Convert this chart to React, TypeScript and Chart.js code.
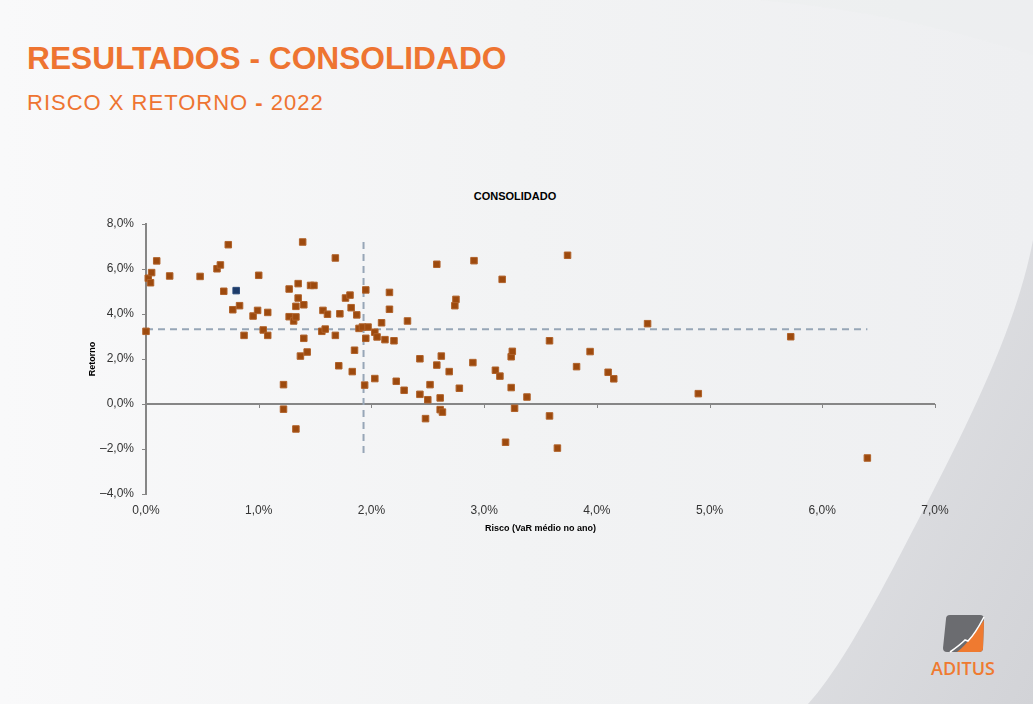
import React, { useEffect, useRef } from "react";
import { Chart, registerables } from "chart.js";

Chart.register(...registerables);

// ---- Data ----
const riscoFundos: number[] = [
  0.0, 0.02, 0.04, 0.05, 0.095, 0.21, 0.48, 0.63, 0.66, 0.69,
  0.73, 0.77, 0.83, 0.87, 0.95, 0.99, 1.0, 1.04, 1.08, 1.08,
  1.22, 1.22, 1.27, 1.27, 1.31, 1.33, 1.33, 1.33, 1.35, 1.35,
  1.37, 1.39, 1.4, 1.4, 1.43, 1.46, 1.49, 1.56, 1.57, 1.59,
  1.61, 1.68, 1.68, 1.71, 1.72, 1.77, 1.81, 1.82, 1.83, 1.85,
  1.87, 1.89, 1.92, 1.94, 1.95, 1.95, 1.97, 2.03, 2.03, 2.05,
  2.09, 2.12, 2.16, 2.16, 2.2, 2.22, 2.29, 2.32, 2.43, 2.43,
  2.48, 2.5, 2.52, 2.58, 2.58, 2.61, 2.61, 2.62, 2.63, 2.69,
  2.74, 2.75, 2.78, 2.9, 2.91, 3.1, 3.14, 3.16, 3.19, 3.24,
  3.24, 3.25, 3.27, 3.38, 3.58, 3.58, 3.65, 3.74, 3.82, 3.94,
  4.1, 4.15, 4.45, 4.9, 5.72, 6.4,
];
const retornoFundos: number[] = [
  3.23, 5.59, 5.39, 5.84, 6.36, 5.69, 5.67, 6.01, 6.18, 5.01,
  7.08, 4.19, 4.37, 3.05, 3.91, 4.16, 5.72, 3.29, 4.07, 3.05,
  0.86, -0.23, 5.11, 3.88, 3.69, 3.87, 4.34, -1.11, 5.35, 4.71,
  2.13, 7.2, 4.41, 2.92, 2.31, 5.27, 5.27, 3.23, 4.16, 3.33,
  3.99, 6.49, 3.05, 1.7, 4.01, 4.71, 4.84, 4.28, 1.44, 2.39,
  3.96, 3.36, 3.42, 0.84, 5.07, 2.92, 3.42, 3.19, 1.13, 2.98,
  3.61, 2.86, 4.96, 4.21, 2.81, 1.01, 0.61, 3.69, 2.01, 0.43,
  -0.65, 0.19, 0.86, 6.21, 1.73, 0.27, -0.25, 2.13, -0.36, 1.44,
  4.37, 4.65, 0.7, 1.84, 6.37, 1.5, 1.24, 5.54, -1.7, 2.1,
  0.73, 2.34, -0.19, 0.31, 2.81, -0.53, -1.96, 6.61, 1.66, 2.33,
  1.41, 1.12, 3.57, 0.46, 2.99, -2.4,
];
const riscoDestaque: number[] = [0.8];
const retornoDestaque: number[] = [5.04];

const mediaRisco = 1.93;
const mediaRetorno = 3.32;
const linhaMediaRetornoX: number[] = [0, 6.4];
const linhaMediaRiscoY: number[] = [7.2, -2.4];

const xTicks: number[] = [0, 1, 2, 3, 4, 5, 6, 7];
const yTicks: number[] = [-4, -2, 0, 2, 4, 6, 8];

const FONT = "'Liberation Sans', Arial, Helvetica, sans-serif";
const ORANGE = "#ee7431";

const fmtPct = (v: number) =>
  (v < 0 ? "\u2013" : "") + Math.abs(v).toFixed(1).replace(".", ",") + "%";

const zeroAxisPlugin = {
  id: "zeroAxis",
  beforeDatasetsDraw(chart: any) {
    const { ctx, scales } = chart;
    const x = scales.x;
    const y = scales.y;
    const y0 = Math.round(y.getPixelForValue(0));
    ctx.save();
    ctx.strokeStyle = "#868686";
    ctx.lineWidth = 2;
    ctx.beginPath();
    ctx.moveTo(x.getPixelForValue(xTicks[0]), y0);
    ctx.lineTo(x.getPixelForValue(xTicks[xTicks.length - 1]), y0);
    ctx.stroke();
    ctx.lineWidth = 1;
    xTicks.forEach((t) => {
      const px = Math.round(x.getPixelForValue(t)) + 0.5;
      ctx.beginPath();
      ctx.moveTo(px, y0);
      ctx.lineTo(px, y0 + 4);
      ctx.stroke();
    });
    ctx.restore();
  },
};

function ScatterChart() {
  const ref = useRef<HTMLCanvasElement | null>(null);
  useEffect(() => {
    if (!ref.current) return;
    const fundos = riscoFundos.map((r, i) => ({ x: r, y: retornoFundos[i] }));
    const destaque = riscoDestaque.map((r, i) => ({ x: r, y: retornoDestaque[i] }));
    const hLine = linhaMediaRetornoX.map((r) => ({ x: r, y: mediaRetorno }));
    const vLine = linhaMediaRiscoY.map((r) => ({ x: mediaRisco, y: r }));
    const dashed = {
      showLine: true,
      borderColor: "#97a6b7",
      borderWidth: 2,
      borderDash: [7, 5],
      pointRadius: 0,
      fill: false,
      clip: false,
    };
    const chart = new Chart(ref.current, {
      type: "scatter",
      data: {
        datasets: [
          {
            data: destaque,
            pointStyle: "rect",
            pointRadius: 4.6,
            backgroundColor: "#1d3b69",
            borderColor: "#2a4a78",
            borderWidth: 1,
            clip: false,
          },
          {
            data: fundos,
            pointStyle: "rect",
            pointRadius: 4.6,
            backgroundColor: "#9d4a0e",
            borderColor: "#b0622a",
            borderWidth: 1,
            clip: false,
          },
          { data: hLine, ...dashed },
          { data: vLine, ...dashed },
        ] as any,
      },
      options: {
        responsive: false,
        animation: false,
        events: [],
        layout: { padding: { left: 83, right: 98, top: 224, bottom: 166 } },
        plugins: {
          legend: { display: false },
          tooltip: { enabled: false },
          title: { display: false },
        },
        scales: {
          x: {
            type: "linear",
            position: "bottom",
            min: 0,
            max: 7,
            afterBuildTicks: (s: any) => {
              s.ticks = xTicks.map((v) => ({ value: v }));
            },
            afterFit: (s: any) => {
              s.height = 44;
            },
            ticks: {
              padding: 9,
              maxRotation: 0,
              color: "#333333",
              font: { family: FONT, size: 12 },
              callback: (v: any) => fmtPct(Number(v)),
            },
            grid: { display: false, drawTicks: false },
            border: { display: false },
            title: {
              display: true,
              text: "Risco (VaR médio no ano)",
              color: "#000000",
              font: { family: FONT, size: 9, weight: "bold" },
              padding: { top: 4, bottom: 4 },
            },
          },
          y: {
            type: "linear",
            min: -4,
            max: 8,
            afterBuildTicks: (s: any) => {
              s.ticks = yTicks.map((v) => ({ value: v }));
            },
            afterFit: (s: any) => {
              s.width = 63;
            },
            ticks: {
              padding: 8,
              color: "#333333",
              font: { family: FONT, size: 12 },
              callback: (v: any) => fmtPct(Number(v)),
            },
            grid: {
              drawOnChartArea: false,
              drawTicks: true,
              tickLength: 4,
              color: "#868686",
              lineWidth: 1,
            },
            border: { display: true, color: "#868686", width: 2 },
            title: {
              display: true,
              text: "Retorno",
              color: "#000000",
              font: { family: FONT, size: 9, weight: "bold" },
              padding: { top: 4, bottom: 4 },
            },
          },
        },
      } as any,
      plugins: [zeroAxisPlugin],
    });
    return () => chart.destroy();
  }, []);
  return (
    <canvas
      ref={ref}
      width={1033}
      height={704}
      style={{ position: "absolute", left: 0, top: 0, width: 1033, height: 704 }}
    />
  );
}

function Logo() {
  return (
    <svg
      width={1033}
      height={704}
      style={{ position: "absolute", left: 0, top: 0 }}
    >
      <path
        d="M950 615 Q946 615 946 619 L943 648 Q943 652 947 652 L979 652 Q983 652 983 648 L984 619 Q984 615 980 615 Z"
        fill="#6b6c70"
      />
      <path
        d="M957 652 Q966 645 970 638 Q976 632 984 620 L983 648 Q983 652 979 652 Z"
        fill="#ef7a30"
      />
      <path
        d="M950 652 Q960 645 965 640 L968 641 Q975 634 984 617"
        stroke="#ffffff"
        strokeWidth={1.6}
        fill="none"
      />
      <text
        x={963}
        y={675}
        textAnchor="middle"
        fontFamily="'Open Sans', Arial, sans-serif"
        fontWeight={600}
        fontSize={18}
        fill="#ef7a30"
      >
        ADITUS
      </text>
    </svg>
  );
}

function Background() {
  return (
    <svg
      width={1033}
      height={704}
      style={{ position: "absolute", left: 0, top: 0 }}
    >
      <defs>
        <linearGradient id="bgMain" x1="0" y1="0" x2="1" y2="0">
          <stop offset="0" stopColor="#f9f9fa" />
          <stop offset="0.5" stopColor="#f2f3f4" />
          <stop offset="1" stopColor="#eeeff1" />
        </linearGradient>
        <linearGradient id="bgRight" x1="0" y1="0" x2="1" y2="1">
          <stop offset="0" stopColor="#e4e5e8" />
          <stop offset="1" stopColor="#d2d3d7" />
        </linearGradient>
      </defs>
      <rect x={0} y={0} width={1033} height={704} fill="url(#bgMain)" />
      <path d="M760 0 Q900 12 1033 55 L1033 0 Z" fill="#ecedef" opacity={0.35} />
      <path
        d="M1033 240 C1015 335 960 440 900 555 C862 628 832 678 808 704 L1033 704 Z"
        fill="url(#bgRight)"
      />
    </svg>
  );
}

export default function App() {
  return (
    <div
      style={{
        position: "fixed",
        left: 0,
        top: 0,
        width: 1033,
        height: 704,
        overflow: "hidden",
        fontFamily: FONT,
      }}
    >
      <Background />
      <Logo />
      <div
        style={{
          position: "absolute",
          left: 27,
          top: 43,
          fontSize: 31.7,
          lineHeight: 1,
          fontWeight: "bold",
          color: ORANGE,
          whiteSpace: "nowrap",
        }}
      >
        RESULTADOS - CONSOLIDADO
      </div>
      <div
        style={{
          position: "absolute",
          left: 27,
          top: 92,
          fontSize: 22,
          lineHeight: 1,
          letterSpacing: 1.0,
          color: ORANGE,
          whiteSpace: "nowrap",
        }}
      >
        RISCO X RETORNO <b>-</b> 2022
      </div>
      <div
        style={{
          position: "absolute",
          left: 515,
          top: 191,
          transform: "translateX(-50%)",
          fontSize: 11,
          lineHeight: 1,
          fontWeight: "bold",
          color: "#000000",
          whiteSpace: "nowrap",
        }}
      >
        CONSOLIDADO
      </div>
      <ScatterChart />
    </div>
  );
}
